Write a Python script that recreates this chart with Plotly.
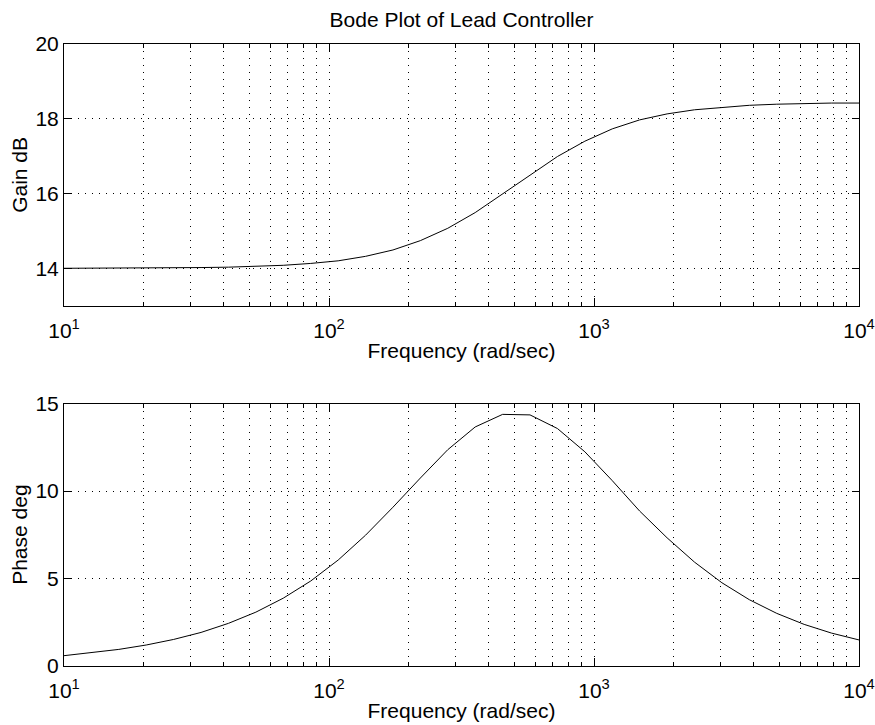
import plotly.graph_objects as go

# Frequencies (rad/sec)
freq = [10.0, 12.69, 16.10, 20.43, 25.93, 32.90, 41.75, 52.98, 67.23, 85.32,
        108.3, 137.4, 174.3, 221.2, 280.7, 356.2, 452.0, 573.6, 727.9, 923.7,
        1172, 1487, 1887, 2395, 3039, 3857, 4894, 6210, 7881, 10000]

gain_db = [14.00, 14.00, 14.01, 14.01, 14.01, 14.02, 14.03, 14.05, 14.08, 14.13,
           14.20, 14.32, 14.49, 14.74, 15.07, 15.49, 15.99, 16.50, 16.99, 17.40,
           17.73, 17.97, 18.13, 18.24, 18.31, 18.36, 18.39, 18.41, 18.42, 18.42]

phase_deg = [0.59, 0.75, 0.95, 1.20, 1.52, 1.92, 2.44, 3.08, 3.88, 4.86,
             6.06, 7.48, 9.08, 10.75, 12.37, 13.67, 14.39, 14.36, 13.58, 12.25,
             10.60, 8.86, 7.33, 5.94, 4.76, 3.79, 3.01, 2.38, 1.88, 1.49]

x_tickvals = [10, 100, 1000, 10000]
x_ticktext = ["10<sup>1</sup>", "10<sup>2</sup>", "10<sup>3</sup>", "10<sup>4</sup>"]
x_minor = [m * 10 ** e for e in range(1, 4) for m in range(2, 10)]
gain_ticks = [14, 16, 18, 20]
phase_ticks = [0, 5, 10, 15]

FONT = "Liberation Sans, Arial, Helvetica, sans-serif"
FS = 21
DOT = "1px,6px"

W, H = 875, 725
ML, MR, MT, MB = 64, 16, 43.7, 59.3
PW = W - ML - MR

fig = go.Figure()
fig.add_trace(go.Scatter(x=freq, y=gain_db, mode="lines",
                         line=dict(color="black", width=1),
                         xaxis="x", yaxis="y", showlegend=False))
fig.add_trace(go.Scatter(x=freq, y=phase_deg, mode="lines",
                         line=dict(color="black", width=1),
                         xaxis="x2", yaxis="y2", showlegend=False))

def xaxis_cfg(anchor):
    return dict(
        type="log", range=[1, 4], anchor=anchor, domain=[0, 1], automargin=False,
        tickmode="array", tickvals=x_tickvals, ticktext=x_ticktext,
        ticks="inside", ticklen=8, tickcolor="black", tickwidth=1,
        ticklabelstandoff=6,
        showline=True, linecolor="black", linewidth=1, mirror="ticks",
        showgrid=True, gridcolor="black", gridwidth=1, griddash=DOT,
        minor=dict(tickmode="array", tickvals=x_minor, ticks="inside", ticklen=4,
                   tickcolor="black", showgrid=True, gridcolor="black",
                   gridwidth=1, griddash=DOT),
        zeroline=False,
        tickfont=dict(family=FONT, size=FS, color="black"),
        title=dict(text="Frequency (rad/sec)", standoff=2,
                   font=dict(family=FONT, size=FS, color="black")),
    )

def yaxis_cfg(anchor, dom, rng, ticks):
    return dict(
        range=rng, anchor=anchor, domain=dom, automargin=False,
        tickmode="array", tickvals=ticks,
        ticks="inside", ticklen=7, tickcolor="black", tickwidth=1,
        showline=True, linecolor="black", linewidth=1, mirror="ticks",
        showgrid=True, gridcolor="black", gridwidth=1, griddash=DOT,
        zeroline=False,
        tickfont=dict(family=FONT, size=FS, color="black"),
    )

top_dom = [0.5793, 1.0]
bot_dom = [0.0, 0.4217]

fig.update_layout(
    width=W, height=H,
    margin=dict(l=ML, r=MR, t=MT, b=MB, autoexpand=False),
    paper_bgcolor="white", plot_bgcolor="white",
    title=dict(text="Bode Plot of Lead Controller", x=0.5, xref="paper",
               xanchor="center", y=1 - 20 / H, yref="container", yanchor="middle",
               font=dict(family=FONT, size=FS, color="black")),
    xaxis=xaxis_cfg("y"),
    yaxis=yaxis_cfg("x", top_dom, [13, 20], gain_ticks),
    xaxis2=xaxis_cfg("y2"),
    yaxis2=yaxis_cfg("x2", bot_dom, [0, 15], phase_ticks),
)

# y-axis titles placed as in the reference (MATLAB lets them overlap tick labels)
ytitle_x = (20 - ML) / PW
for text, dom in [("Gain dB", top_dom), ("Phase deg", bot_dom)]:
    fig.add_annotation(text=text, textangle=-90, xref="paper", yref="paper",
                       x=ytitle_x, y=(dom[0] + dom[1]) / 2,
                       xanchor="center", yanchor="middle", showarrow=False,
                       font=dict(family=FONT, size=FS, color="black"))

# remove the default page margin so the figure fills the 875x725 window exactly
fig.write_html("out.html",
               config={"displayModeBar": False},
               post_script="document.body.style.margin='0';"
                           "document.documentElement.style.overflow='hidden';")
